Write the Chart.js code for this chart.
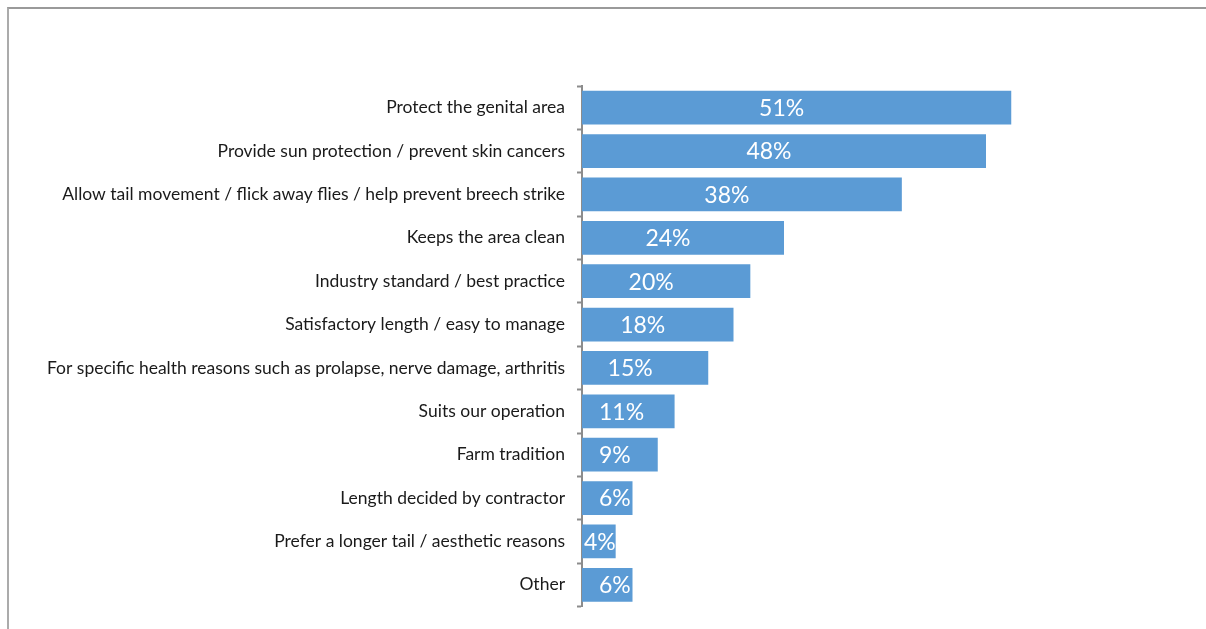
<!DOCTYPE html>
<html>
<head>
<meta charset="utf-8">
<script src="https://cdn.jsdelivr.net/npm/chart.js@4"></script>
<style>
    body { margin: 0; background: #fff; }
    #wrap { position: relative; width: 1206px; height: 629px; overflow: hidden; }
    #frame {
        position: absolute; left: 7px; top: 7px; right: -10px; bottom: -10px;
        border-top: 2px solid #9a9a9a; border-left: 2px solid #ababab;
    }
    #myChart { position: absolute; left: 0; top: 0; }
</style>
</head>
<body>
<div id="wrap">
    <div id="frame"></div>
    <canvas id="myChart" width="1206" height="629"></canvas>
</div>
<script>
const reasons = [
    'Protect the genital area',
    'Provide sun protection / prevent skin cancers',
    'Allow tail movement / flick away flies / help prevent breech strike',
    'Keeps the area clean',
    'Industry standard / best practice',
    'Satisfactory length / easy to manage',
    'For specific health reasons such as prolapse, nerve damage, arthritis',
    'Suits our operation',
    'Farm tradition',
    'Length decided by contractor',
    'Prefer a longer tail / aesthetic reasons',
    'Other'
];
const percents = [51, 48, 38, 24, 20, 18, 15, 11, 9, 6, 4, 6];

// white percentage text inside each bar, nudged left of centre;
// short bars get it pushed to the start of the bar
const barLabels = {
    id: 'barLabels',
    afterDatasetsDraw(chart) {
        const ctx = chart.ctx;
        const meta = chart.getDatasetMeta(0);
        ctx.save();
        ctx.fillStyle = '#ffffff';
        ctx.font = '23px Lato';
        ctx.textAlign = 'left';
        ctx.textBaseline = 'middle';
        meta.data.forEach((bar, i) => {
            const txt = percents[i] + '%';
            const w = ctx.measureText(txt).width;
            let left = (bar.x + bar.base) / 2 - 15 - w / 2;
            left = Math.max(left, bar.base + 17);
            if (left + w > bar.x + 2) left = bar.base + 2;
            ctx.fillText(txt, left, bar.y + 1);
        });
        ctx.restore();
    }
};

const ctx = document.getElementById('myChart').getContext('2d');
const myChart = new Chart(ctx, {
    type: 'bar',
    data: {
        labels: reasons,
        datasets: [{
            data: percents,
            backgroundColor: '#5B9BD5',
            borderWidth: 0,
            categoryPercentage: 1,
            barPercentage: 0.78
        }]
    },
    options: {
        indexAxis: 'y',
        responsive: false,
        animation: false,
        layout: {
            padding: { left: 0, right: 119, top: 86, bottom: 18 }
        },
        scales: {
            x: {
                display: false,
                min: 0,
                max: 60
            },
            y: {
                afterFit: function(scale) {
                    scale.width = 582;
                },
                border: {
                    display: true,
                    color: '#8c8c8c',
                    width: 2
                },
                grid: {
                    display: true,
                    offset: true,
                    drawOnChartArea: false,
                    tickLength: 5,
                    tickWidth: 2,
                    tickColor: '#8c8c8c'
                },
                ticks: {
                    color: '#1a1a1a',
                    font: {
                        family: 'Lato',
                        size: 17.5
                    },
                    padding: 12
                }
            }
        },
        plugins: {
            legend: { display: false },
            tooltip: { enabled: false }
        }
    },
    plugins: [barLabels]
});
</script>
</body>
</html>
